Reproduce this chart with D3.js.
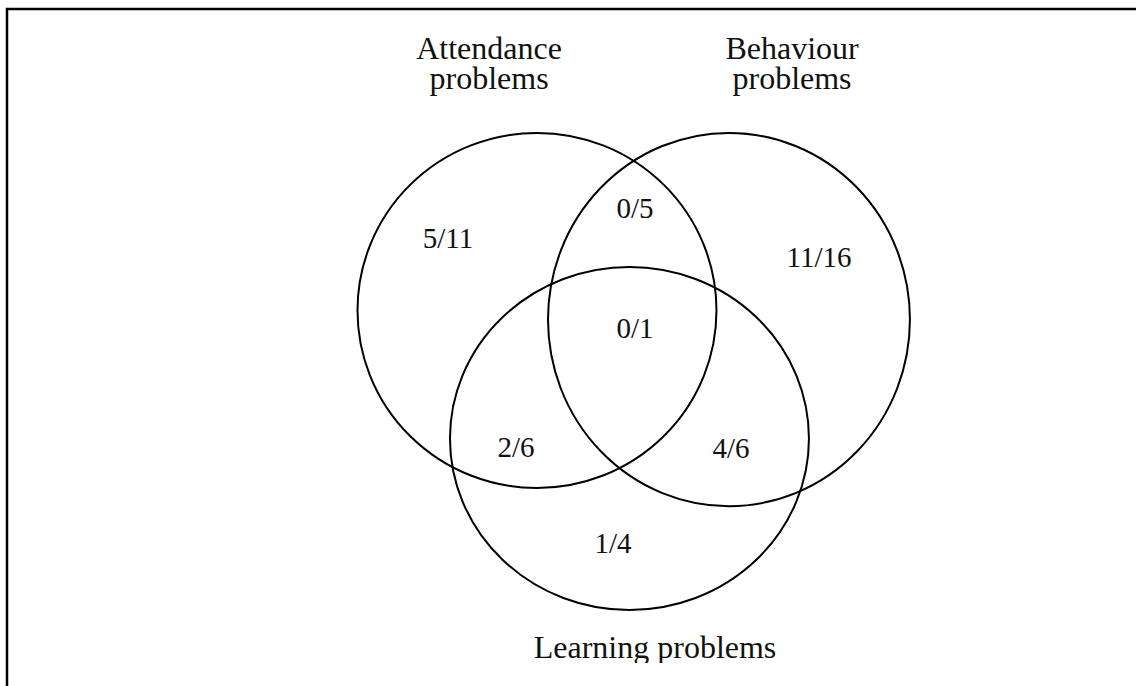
<!DOCTYPE html>
<html>
<head>
<meta charset="utf-8">
<script src="https://cdn.jsdelivr.net/npm/d3@7"></script>
<style>
  html, body { margin: 0; padding: 0; background: #fff; }
  svg { display: block; }
  .set-ring { fill: none; stroke: #000; stroke-width: 2; }
  .frame { fill: none; stroke: #000; stroke-width: 2.5; }
  .set-name, .region-count { font-family: "Liberation Serif", "Times New Roman", serif; fill: #111; }
  .set-name { font-size: 32px; }
  .region-count { font-size: 29px; }
</style>
</head>
<body>
<svg id="venn"></svg>
<script>
// Sets shown in the diagram (title lines, one entry per set).
const setNames = [
    ["Attendance", "problems"],
    ["Behaviour", "problems"],
    ["Learning problems"]
];

// Region membership and its "x/y" counts.
const regionSets = ["A", "AB", "B", "ABL", "AL", "BL", "L"];
const regionNumerators = [5, 0, 11, 0, 2, 4, 1];
const regionDenominators = [11, 5, 16, 1, 6, 6, 4];

const width = 1136;
const height = 686;

// Layout of the drawing, in the diagram's own units (0-100 wide, 0-60.4 tall).
// Rings: centre and radii; these are a bit squashed, like the original.
const layout = {
    rings: [
        { cx: 47.27, cy: 27.33, rx: 15.80, ry: 15.63 },
        { cx: 64.17, cy: 28.13, rx: 15.93, ry: 16.43 },
        { cx: 55.41, cy: 38.60, rx: 15.80, ry: 15.10 }
    ],
    names: [
        { x: 43.05, y: 5.20 },
        { x: 69.72, y: 5.20 },
        { x: 57.66, y: 57.92 }
    ],
    regions: {
        A:   { x: 39.44, y: 21.83 },
        AB:  { x: 55.90, y: 19.19 },
        B:   { x: 72.10, y: 23.50 },
        ABL: { x: 55.90, y: 29.75 },
        AL:  { x: 45.42, y: 40.23 },
        BL:  { x: 64.35, y: 40.32 },
        L:   { x: 53.96, y: 48.68 }
    }
};

const x = d3.scaleLinear().domain([0, 100]).range([0, width]);
const y = d3.scaleLinear().domain([0, 60.39]).range([0, height]);
const r = d3.scaleLinear().domain([0, 100]).range([0, width]);

const svg = d3.select("#venn")
    .attr("width", width)
    .attr("height", height);

// The outer box of the figure runs past the right and bottom edges.
svg.append("rect")
    .attr("class", "frame")
    .attr("x", 7)
    .attr("y", 9)
    .attr("width", width + 20)
    .attr("height", height + 20);

// Text is clipped just above the bottom, so the descenders of the last title get cut.
svg.append("clipPath")
    .attr("id", "content-clip")
    .append("rect")
    .attr("x", 0)
    .attr("y", 0)
    .attr("width", width)
    .attr("height", 663);

const content = svg.append("g").attr("clip-path", "url(#content-clip)");

content.selectAll("ellipse.set-ring")
    .data(layout.rings)
    .join("ellipse")
    .attr("class", "set-ring")
    .attr("cx", d => x(d.cx))
    .attr("cy", d => y(d.cy))
    .attr("rx", d => r(d.rx))
    .attr("ry", d => r(d.ry));

// Set titles, one tspan per line.
const lineHeight = 30;
content.selectAll("text.set-name")
    .data(setNames)
    .join("text")
    .attr("class", "set-name")
    .attr("text-anchor", "middle")
    .attr("transform", (d, i) => `translate(${x(layout.names[i].x)},${y(layout.names[i].y)})`)
    .selectAll("tspan")
    .data(d => d)
    .join("tspan")
    .attr("x", 0)
    .attr("y", (d, j) => j * lineHeight)
    .text(d => d);

// Counts in each region.
content.selectAll("text.region-count")
    .data(regionSets)
    .join("text")
    .attr("class", "region-count")
    .attr("text-anchor", "middle")
    .attr("x", d => x(layout.regions[d].x))
    .attr("y", d => y(layout.regions[d].y))
    .text((d, i) => `${regionNumerators[i]}/${regionDenominators[i]}`);
</script>
</body>
</html>
